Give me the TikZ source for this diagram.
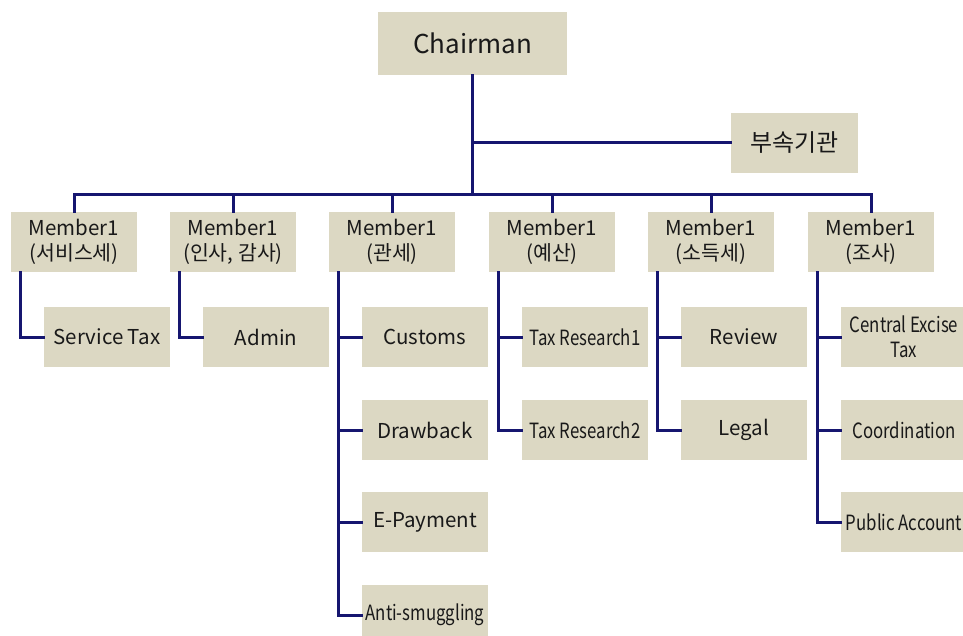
\documentclass[tikz,border=0pt]{standalone}
\usepackage{fontspec}
\setmainfont{Noto Sans CJK KR}
\newfontfamily\condfont[FakeStretch=0.8]{Noto Sans CJK KR}
\definecolor{boxfill}{RGB}{220,216,195}
\definecolor{linecol}{RGB}{22,22,112}
\definecolor{txt}{RGB}{25,25,25}
\tikzset{
  box/.style={fill=boxfill, draw=none, minimum width=126pt, minimum height=60pt, inner sep=0pt, align=center, text=txt, font=\fontsize{20.5}{25}\selectfont},
  condbox/.style={box, font=\condfont\fontsize{21}{25}\selectfont},
  conn/.style={draw=linecol, line width=3pt, line cap=rect}
}
\begin{document}
\begin{tikzpicture}[x=1pt,y=-1pt]
\useasboundingbox (0,0) rectangle (963,636);
\fill[white] (0,0) rectangle (963,636);
\clip (0,0) rectangle (963,636);
% top
\node[box, minimum width=189pt, minimum height=63pt, font=\fontsize{26}{30}\selectfont] (ch) at (472.5,43.5) {Chairman};
\node[box, minimum width=127pt, font=\fontsize{24}{28}\selectfont] (sub) at (794.5,143) {부속기관};
\coordinate (bus) at (472.5,195);
% members
\node[box] (m1) at (74,242) {Member1\\(서비스세)};
\node[box] (m2) at (233,242) {Member1\\(인사, 감사)};
\node[box] (m3) at (392,242) {Member1\\(관세)};
\node[box] (m4) at (552,242) {Member1\\(예산)};
\node[box] (m5) at (711,242) {Member1\\(소득세)};
\node[box] (m6) at (871,242) {Member1\\(조사)};
% children
\node[box] (c11) at (107,337) {Service Tax};
\node[box] (c21) at (266,337) {Admin};
\node[box] (c31) at (425,337) {Customs};
\node[box] (c32) at (425,430) {Drawback};
\node[box] (c33) at (425,522) {E-Payment};
\node[condbox] (c34) at (425,615) {Anti-smuggling};
\node[condbox] (c41) at (585,337) {Tax Research1};
\node[condbox] (c42) at (585,430) {Tax Research2};
\node[box] (c51) at (744,337) {Review};
\node[box] (c52) at (744,430) {Legal};
\node[condbox] (c61) at (904,337) {Central Excise\\Tax};
\node[condbox] (c62) at (904,430) {Coordination};
\node[condbox] (c63) at (904,522) {Public Account};
% connectors
\draw[conn] (ch.south) -- (bus);
\draw[conn] (ch.south |- sub.west) -- (sub.west);
\draw[conn] (m1.north) |- (m6.north |- bus) -- (m6.north);
\foreach \m in {m2,m3,m4,m5} \draw[conn] (\m.north) -- (\m.north |- bus);
\draw[conn] ([xshift=10pt]m1.south west) |- (c11.west);
\draw[conn] ([xshift=10pt]m2.south west) |- (c21.west);
\draw[conn] ([xshift=10pt]m3.south west) |- (c34.west);
\foreach \c in {c31,c32,c33} \draw[conn] ([xshift=10pt]m3.south west |- \c.west) -- (\c.west);
\draw[conn] ([xshift=10pt]m4.south west) |- (c42.west);
\draw[conn] ([xshift=10pt]m4.south west |- c41.west) -- (c41.west);
\draw[conn] ([xshift=10pt]m5.south west) |- (c52.west);
\draw[conn] ([xshift=10pt]m5.south west |- c51.west) -- (c51.west);
\draw[conn] ([xshift=10pt]m6.south west) |- (c63.west);
\foreach \c in {c61,c62} \draw[conn] ([xshift=10pt]m6.south west |- \c.west) -- (\c.west);
\end{tikzpicture}
\end{document}
